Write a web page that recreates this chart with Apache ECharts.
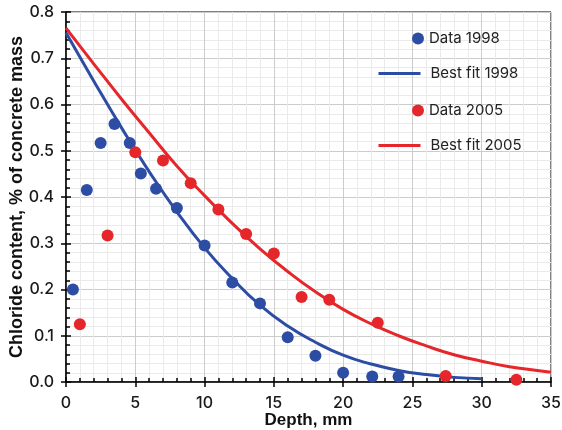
<!DOCTYPE html>
<html>
<head>
<meta charset="utf-8">
<script src="https://cdn.jsdelivr.net/npm/echarts@6/dist/echarts.min.js"></script>
<style>
  html, body { margin: 0; padding: 0; background: #fff; }
  #chart { width: 562px; height: 430px; }
</style>
</head>
<body>
<div id="chart"></div>
<script>
// measured points (depth mm, chloride %)
const data1998 = [
  [0.5, 0.20], [1.5, 0.415], [2.5, 0.517], [3.5, 0.558], [4.6, 0.517],
  [5.4, 0.451], [6.5, 0.418], [8.0, 0.376], [10.0, 0.295], [12.0, 0.215],
  [14.0, 0.170], [16.0, 0.097], [18.0, 0.057], [20.0, 0.020], [22.1, 0.012],
  [24.0, 0.012]
];
const data2005 = [
  [1.0, 0.125], [3.0, 0.317], [5.0, 0.497], [7.0, 0.479], [9.0, 0.430],
  [11.0, 0.373], [13.0, 0.320], [15.0, 0.278], [17.0, 0.184], [19.0, 0.178],
  [22.5, 0.128], [27.4, 0.013], [32.5, 0.005]
];
// fitted curves
const fitDepth1998 = [0, 2, 4, 6, 8, 10, 12, 14, 16, 18, 20, 22, 24, 26, 28, 30];
const fitValue1998 = [0.755, 0.651, 0.550, 0.455, 0.368, 0.290, 0.224, 0.166, 0.121, 0.086, 0.058, 0.039, 0.025, 0.016, 0.010, 0.007];
const fitDepth2005 = [0, 2, 4, 6, 8, 10, 12, 14, 16, 18, 20, 22, 24, 26, 28, 30, 32, 34, 35];
const fitValue2005 = [0.765, 0.688, 0.612, 0.539, 0.467, 0.403, 0.343, 0.288, 0.239, 0.195, 0.157, 0.126, 0.100, 0.078, 0.059, 0.045, 0.033, 0.025, 0.021];

const blue = "#2D4DA5";
const red = "#E5262A";
const zip = (xs, ys) => xs.map((x, i) => [x, ys[i]]);

const tickFont = { fontFamily: "Inter, sans-serif", fontWeight: 500, fontSize: 16, color: "#1a1a1a" };

// second axis on the same side only draws the outward half of the major ticks
const outerTicks = {
  axisLine: { show: false },
  axisTick: { show: true, inside: false, length: 5, lineStyle: { color: "#000", width: 1.5 } },
  axisLabel: { show: false },
  splitLine: { show: false }
};

const chart = echarts.init(document.getElementById("chart"));
chart.setOption({
  animation: false,
  textStyle: { fontFamily: "Liberation Sans, Arial, sans-serif" },
  grid: {
    left: 66, right: 11, top: 12, bottom: 48,
    outerBoundsMode: "none",
    show: true, borderColor: "#000", borderWidth: 1
  },
  legend: [
    {
      data: ["Data 1998", "Data 2005"],
      orient: "vertical",
      left: 407, top: 26,
      itemWidth: 12, itemHeight: 14, itemGap: 57,
      icon: "circle",
      textStyle: { fontSize: 15, color: "#222", fontFamily: "Inter, sans-serif" }
    },
    {
      data: ["Best fit 1998", "Best fit 2005"],
      orient: "vertical",
      left: 372, top: 61,
      itemWidth: 42, itemHeight: 14, itemGap: 57,
      textStyle: { fontSize: 15, color: "#222", fontFamily: "Inter, sans-serif", padding: [0, 0, 0, 5] },
      itemStyle: { opacity: 0 },
      lineStyle: { width: 3 }
    }
  ],
  xAxis: [
    {
      type: "value",
      min: 0, max: 35, interval: 5,
      name: "Depth, mm",
      nameLocation: "middle",
      nameGap: 30,
      nameMoveOverlap: false,
      nameTextStyle: { fontSize: 17, fontWeight: "bold", color: "#111" },
      axisLine: { lineStyle: { color: "#000", width: 1.5 } },
      axisTick: { show: true, inside: true, length: 5, lineStyle: { color: "#000", width: 1.5 } },
      minorTick: { show: true, splitNumber: 5, length: 4, lineStyle: { color: "#000", width: 1.5 } },
      axisLabel: Object.assign({ margin: 13 }, tickFont),
      splitLine: { show: true, lineStyle: { color: "#cccccc" } },
      minorSplitLine: { show: true, lineStyle: { color: "#eaeaea" } }
    },
    Object.assign({ type: "value", min: 0, max: 35, interval: 5, position: "bottom" }, outerTicks)
  ],
  yAxis: [
    {
      type: "value",
      min: 0, max: 0.8, interval: 0.1,
      name: "Chloride content, % of concrete mass",
      nameLocation: "middle",
      nameGap: 40,
      nameMoveOverlap: false,
      nameTextStyle: { fontSize: 18, fontWeight: "bold", color: "#111" },
      axisLine: { show: true, lineStyle: { color: "#000", width: 1.5 } },
      axisTick: { show: true, inside: true, length: 5, lineStyle: { color: "#000", width: 1.5 } },
      minorTick: { show: true, splitNumber: 5, length: 4, lineStyle: { color: "#000", width: 1.5 } },
      axisLabel: Object.assign({ margin: 12, formatter: v => v.toFixed(1) }, tickFont),
      splitLine: { show: true, lineStyle: { color: "#cccccc" } },
      minorSplitLine: { show: true, lineStyle: { color: "#eaeaea" } }
    },
    Object.assign({ type: "value", min: 0, max: 0.8, interval: 0.1, position: "left" }, outerTicks)
  ],
  series: [
    {
      name: "Best fit 1998",
      type: "line",
      smooth: true,
      showSymbol: false,
      symbol: "none",
      color: blue,
      lineStyle: { width: 3, color: blue },
      data: zip(fitDepth1998, fitValue1998),
      z: 2
    },
    {
      name: "Best fit 2005",
      type: "line",
      smooth: true,
      showSymbol: false,
      symbol: "none",
      color: red,
      lineStyle: { width: 3, color: red },
      data: zip(fitDepth2005, fitValue2005),
      z: 2
    },
    {
      name: "Data 1998",
      type: "scatter",
      symbolSize: 12,
      itemStyle: { color: blue, opacity: 1 },
      data: data1998,
      z: 3
    },
    {
      name: "Data 2005",
      type: "scatter",
      symbolSize: 12,
      itemStyle: { color: red, opacity: 1 },
      data: data2005,
      z: 3
    }
  ]
});
</script>
</body>
</html>
